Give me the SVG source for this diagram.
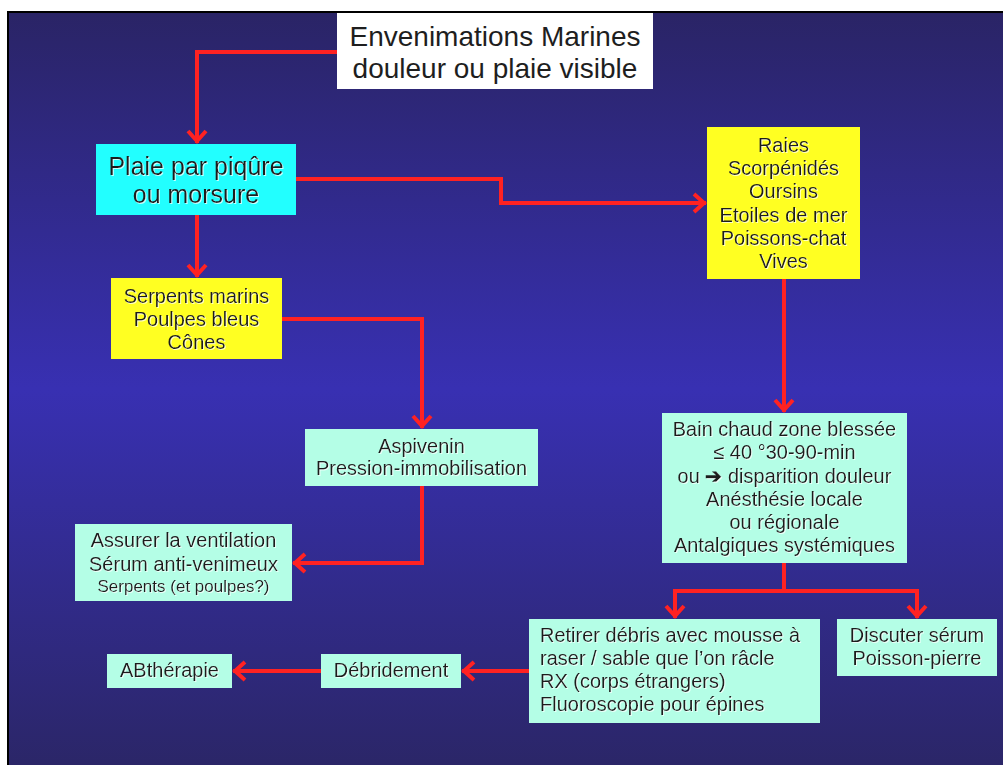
<svg xmlns="http://www.w3.org/2000/svg" width="1003" height="765" viewBox="0 0 1003 765">
<defs>
<linearGradient id="bg" x1="0" y1="0" x2="0" y2="1">
<stop offset="0" stop-color="#2a2466"/>
<stop offset="0.5" stop-color="#3830b2"/>
<stop offset="1" stop-color="#2b2668"/>
</linearGradient>
<filter id="sh" x="-5%" y="-20%" width="110%" height="140%">
<feDropShadow dx="1" dy="1" stdDeviation="0" flood-color="#ffffff" flood-opacity="0.75"/>
</filter>
<marker id="ah" viewBox="-15 -12 18 24" refX="0" refY="0" markerWidth="18" markerHeight="24" markerUnits="userSpaceOnUse" orient="auto">
<path d="M-12,-9 L-2,0 L-12,9" fill="none" stroke="#ff2222" stroke-width="4"/>
</marker>
</defs>
<style>
text{font-family:"Liberation Sans",Arial,sans-serif;fill:#1e1e1e;text-anchor:middle}
.b text{filter:url(#sh)}
.t{font-size:28px}
.c{font-size:25px}
.m{font-size:20px}
.s{font-size:17px}
.l{text-anchor:start}
.bo{font-weight:bold}
.cy{fill:#22ffff}
.ye{fill:#ffff22}
.mi{fill:#b4fee6}
.wh{fill:#ffffff}
#connectors path{fill:none;stroke:#ff2222;stroke-width:4}
.a{marker-end:url(#ah)}
</style>
<rect x="0" y="0" width="1003" height="765" fill="#ffffff"/>
<rect x="7" y="11" width="996" height="754" fill="#000000"/>
<rect x="9" y="13" width="994" height="752" fill="url(#bg)"/>

<g id="connectors">
<path class="a" d="M337,52 H197 V143"/>
<path class="a" d="M197,215 V277"/>
<path class="a" d="M296,179 H501 V203 H706"/>
<path class="a" d="M282,319 H422 V428"/>
<path class="a" d="M422,486 V563 H293"/>
<path class="a" d="M784,279 V412"/>
<path class="a" d="M784,563 V591 H675 V618"/>
<path class="a" d="M784,591 H917 V618"/>
<path class="a" d="M529,671 H462"/>
<path class="a" d="M321,671 H233"/>
</g>

<g id="title">
<rect class="wh" x="337" y="13" width="316" height="76"/>
<text class="t" x="495" y="46">Envenimations Marines</text>
<text class="t" x="495" y="78">douleur ou plaie visible</text>
</g>

<g id="plaie" class="b">
<rect class="cy" x="96" y="144" width="200" height="71"/>
<text class="c" x="196" y="175">Plaie par piqûre</text>
<text class="c" x="196" y="203">ou morsure</text>
</g>

<g id="serpents" class="b">
<rect class="ye" x="111" y="278" width="171" height="81"/>
<text class="m" x="196.5" y="303">Serpents marins</text>
<text class="m" x="196.5" y="326">Poulpes bleus</text>
<text class="m" x="196.5" y="349">Cônes</text>
</g>

<g id="raies" class="b">
<rect class="ye" x="707" y="127" width="153" height="152"/>
<text class="m" x="783.5" y="152">Raies</text>
<text class="m" x="783.5" y="175">Scorpénidés</text>
<text class="m" x="783.5" y="198">Oursins</text>
<text class="m" x="783.5" y="222">Etoiles de mer</text>
<text class="m" x="783.5" y="245">Poissons-chat</text>
<text class="m" x="783.5" y="268">Vives</text>
</g>

<g id="aspivenin" class="b">
<rect class="mi" x="305" y="429" width="233" height="57"/>
<text class="m" x="421.5" y="453">Aspivenin</text>
<text class="m" x="421.5" y="475">Pression-immobilisation</text>
</g>

<g id="assurer" class="b">
<rect class="mi" x="75" y="524" width="217" height="77"/>
<text class="m" x="183.5" y="547">Assurer la ventilation</text>
<text class="m" x="183.5" y="571">Sérum anti-venimeux</text>
<text class="s" x="183.5" y="592">Serpents (et poulpes?)</text>
</g>

<g id="bain" class="b">
<rect class="mi" x="662" y="413" width="245" height="150"/>
<text class="m" x="784.5" y="436">Bain chaud zone blessée</text>
<text class="m" x="784.5" y="459">≤ 40 °30-90-min</text>
<text class="m" x="784.5" y="483">ou <tspan class="bo">➔</tspan> disparition douleur</text>
<text class="m" x="784.5" y="506">Anésthésie locale</text>
<text class="m" x="784.5" y="529">ou régionale</text>
<text class="m" x="784.5" y="552">Antalgiques systémiques</text>
</g>

<g id="discuter" class="b">
<rect class="mi" x="837" y="619" width="160" height="57"/>
<text class="m" x="917" y="642">Discuter sérum</text>
<text class="m" x="917" y="665">Poisson-pierre</text>
</g>

<g id="retirer" class="b">
<rect class="mi" x="529" y="619" width="291" height="104"/>
<text class="m l" x="540" y="642">Retirer débris avec mousse à</text>
<text class="m l" x="540" y="665">raser / sable que l’on râcle</text>
<text class="m l" x="540" y="688">RX (corps étrangers)</text>
<text class="m l" x="540" y="711">Fluoroscopie pour épines</text>
</g>

<g id="debridement" class="b">
<rect class="mi" x="321" y="654" width="140" height="34"/>
<text class="m" x="391" y="677">Débridement</text>
</g>

<g id="abtherapie" class="b">
<rect class="mi" x="107" y="654" width="125" height="34"/>
<text class="m" x="169.5" y="677">ABthérapie</text>
</g>
</svg>
